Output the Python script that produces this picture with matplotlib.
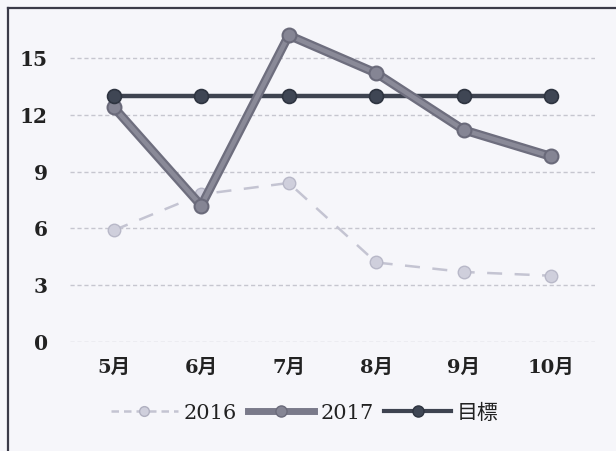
import matplotlib
matplotlib.use("Agg")
import matplotlib.pyplot as plt
from matplotlib.lines import Line2D

months = ["5月", "6月", "7月", "8月", "9月", "10月"]
y2016 = [5.9, 7.8, 8.4, 4.2, 3.7, 3.5]
y2017 = [12.4, 7.2, 16.2, 14.2, 11.2, 9.8]
target = [13, 13, 13, 13, 13, 13]
yticks = [0, 3, 6, 9, 12, 15]

plt.rcParams['font.family'] = ['DejaVu Serif', 'Noto Sans CJK JP']

bg = "#f6f6fa"
fig = plt.figure(figsize=(6.16, 4.51), dpi=100, facecolor=bg)
ax = fig.add_axes([70/616, (451-342)/451, (595-70)/616, (342-5)/451])
ax.set_facecolor(bg)

x = list(range(len(months)))

# 2016
ax.plot(x, y2016, color="#c4c4d2", lw=1.8, ls=(0, (6, 5)), marker="o",
        ms=9, mfc="#cfcfdc", mec="#b8b8c8", mew=1, zorder=3)
# target line (line part)
ax.plot(x, target, color="#3e4350", lw=3.2, zorder=4, solid_capstyle="butt")
# 2017
ax.plot(x, y2017, color="#6e6e7e", lw=6.5, zorder=5, solid_joinstyle="round")
ax.plot(x, y2017, color="#8a8a98", lw=3.2, marker="o", ms=10,
        mfc="#858594", mec="#6a6a7a", mew=1.5, zorder=6)
# target markers
ax.plot(x, target, ls="none", marker="o", ms=10, mfc="#3f4654",
        mec="#2e3440", mew=1.2, zorder=7)

ax.set_xlim(-0.5, 5.5)
ax.set_ylim(0, 17.8)
ax.set_yticks(yticks)
ax.set_xticks(x)
ax.set_xticklabels(months, fontweight="bold", fontsize=14)
ax.set_yticklabels([str(v) for v in yticks], fontweight="bold", fontsize=14.5)
ax.tick_params(axis="both", length=0, colors="#222222")
ax.tick_params(axis="y", pad=16)
ax.tick_params(axis="x", pad=12)
for s in ax.spines.values():
    s.set_visible(False)
ax.grid(axis="y", color="#c6c6cf", lw=1, ls=(0, (3, 2)))
ax.set_axisbelow(True)

handles = [
    Line2D([], [], color="#c4c4d2", lw=1.8, ls=(0, (3, 2)), marker="o", ms=7,
           mfc="#cfcfdc", mec="#b0b0c0"),
    Line2D([], [], color="#7a7a8a", lw=5, marker="o", ms=8,
           mfc="#858594", mec="#6a6a7a"),
    Line2D([], [], color="#3e4350", lw=3, marker="o", ms=8,
           mfc="#3f4654", mec="#2e3440"),
]
leg = fig.legend(handles, ["2016", "2017", "目標"], loc="center",
                 bbox_to_anchor=(305/616, 1 - 413/451), ncol=3, frameon=False,
                 fontsize=15, handlelength=3.2, handletextpad=0.3,
                 columnspacing=0.5)
for t in leg.get_texts():
    t.set_color("#222222")

# scanned border (left and top)
fig.add_artist(Line2D([8/616, 8/616], [0, 1 - 8/451], color="#3a3a48", lw=1.6,
                      transform=fig.transFigure))
fig.add_artist(Line2D([8/616, 1], [1 - 8/451, 1 - 8/451], color="#3a3a48",
                      lw=1.6, transform=fig.transFigure))

fig.savefig("out.png", dpi=100, facecolor=bg)
